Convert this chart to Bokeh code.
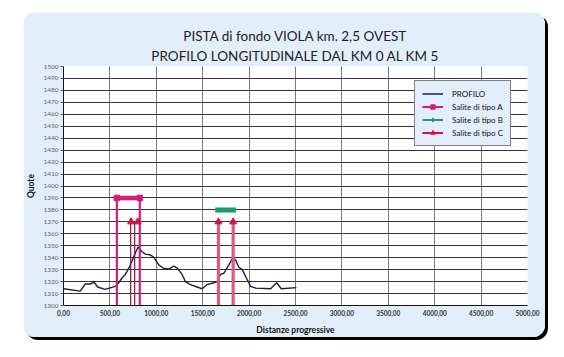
from bokeh.plotting import figure
from bokeh.models import Range1d, FixedTicker, Title, Legend, LegendItem
from bokeh.core.properties import value
from bokeh.embed import file_html
from bokeh.resources import INLINE

# ---- data ----
dist = [0, 180, 234, 288, 331, 367, 450, 558, 594, 630, 666, 702, 738, 774, 803,
        846, 882, 929, 972, 1026, 1080, 1134, 1188, 1224, 1278, 1314, 1368, 1440,
        1494, 1548, 1620, 1656, 1692, 1728, 1782, 1825, 1854, 1890, 1926, 1980,
        2016, 2070, 2232, 2297, 2347, 2510]
quota = [1314, 1312, 1318, 1318, 1319.5, 1315.5, 1313.5, 1316, 1319, 1323, 1326,
         1331, 1337, 1344, 1349, 1345, 1343, 1342.5, 1340.5, 1334, 1331, 1330.5,
         1333, 1331.5, 1326, 1320, 1317.5, 1315.5, 1314, 1317.5, 1319, 1320, 1326,
         1327, 1334, 1340, 1338, 1332, 1330, 1321.5, 1316, 1314.5, 1314, 1319,
         1314, 1315]

salite_A_start = [575]
salite_A_end = [822]
salite_A_quota = [1390]

salite_B_start = [1634]
salite_B_end = [1860]
salite_B_quota = [1380]

salite_C_lines_thin = [724, 767]
salite_C_lines_thick = [1670, 1828]
salite_C_arrows = [728, 800, 1670, 1828]
salite_C_quota = 1370

x_ticks = [0, 500, 1000, 1500, 2000, 2500, 3000, 3500, 4000, 4500, 5000]
x_tick_labels = ["0,00", "500,00", "1000,00", "1500,00", "2000,00", "2500,00",
                 "3000,00", "3500,00", "4000,00", "4500,00", "5000,00"]
y_ticks = list(range(1300, 1501, 10))
base_quota = 1300

title1 = "PISTA di fondo VIOLA km. 2,5 OVEST"
title2 = "PROFILO LONGITUDINALE DAL KM 0 AL KM 5"
legend_labels = ["PROFILO", "Salite di tipo A", "Salite di tipo B", "Salite di tipo C"]

PANEL = "#e2eef9"
PINK = "#d81b7a"
GREEN = "#17a063"
TEAL = "#21957a"
RED = "#d3123f"
NAVY = "#1c1c4e"

p = figure(width=522, height=325, output_backend="svg", toolbar_location=None,
           x_range=Range1d(0, 5000), y_range=Range1d(1300, 1500),
           min_border_left=39, min_border_right=18, min_border_top=54,
           min_border_bottom=31)
p.margin = (12, 19, 20, 23)
p.styles = {"border-radius": "12px", "box-shadow": "3px 3px 0px #000",
            "overflow": "hidden"}
p.border_fill_color = PANEL
p.background_fill_color = "white"
p.outline_line_color = None

# titles: p.title is outermost, added one is closest to the frame
p.title = Title(text=title1, align="center", text_font="Lato",
                text_font_size="13.5px", text_font_style="normal",
                text_color="#222222", standoff=0)
p.add_layout(Title(text=title2, align="center", text_font="Lato",
                   text_font_size="13.5px", text_font_style="normal",
                   text_color="#222222", standoff=5), "above")

# axes
p.xaxis.ticker = FixedTicker(ticks=x_ticks)
p.xaxis.major_label_overrides = {t: l for t, l in zip(x_ticks, x_tick_labels)}
p.yaxis.ticker = FixedTicker(ticks=y_ticks)
p.xaxis.axis_label = "Distanze progressive"
p.yaxis.axis_label = "Quote"
for ax in (p.xaxis, p.yaxis):
    ax.axis_label_text_font = "Lato"
    ax.axis_label_text_font_style = "bold"
    ax.axis_label_text_font_size = "8.5px"
    ax.axis_label_text_color = "#111111"
    ax.major_label_text_font = "Lato"
    ax.major_label_text_font_size = "6.5px"
    ax.axis_line_color = "#111111"
    ax.major_tick_in = 0
    ax.minor_tick_line_color = None
p.xaxis.major_label_text_color = "#333333"
p.xaxis.major_label_text_font_style = "bold"
p.yaxis.major_label_text_color = "#666666"
p.xaxis.major_tick_out = 0
p.xaxis.major_label_standoff = 4
p.xaxis.axis_label_standoff = 6
p.yaxis.major_tick_out = 3
p.yaxis.major_tick_line_color = "#555555"
p.yaxis.major_label_standoff = 2
p.yaxis.axis_label_standoff = 4

p.xgrid.grid_line_color = "#7a7a7a"
p.ygrid.grid_line_color = "#333333"
p.xgrid.grid_line_width = 1
p.ygrid.grid_line_width = 1

# profile
prof = p.line(dist, quota, line_color=NAVY, line_width=1.4)

# Salite tipo A
p.segment(x0=salite_A_start + salite_A_end, y0=[base_quota] * 2,
          x1=salite_A_start + salite_A_end, y1=salite_A_quota * 2,
          line_color=PINK, line_width=2.2)
p.segment(x0=salite_A_start, y0=salite_A_quota, x1=salite_A_end, y1=salite_A_quota,
          line_color=PINK, line_width=4.5)
p.scatter(salite_A_start + salite_A_end, salite_A_quota * 2, marker="square",
          size=5.5, color=PINK)

# Salite tipo B
p.segment(x0=salite_B_start, y0=salite_B_quota, x1=salite_B_end, y1=salite_B_quota,
          line_color=GREEN, line_width=5)

# Salite tipo C
p.segment(x0=salite_C_lines_thin, y0=[base_quota] * 2, x1=salite_C_lines_thin,
          y1=[salite_C_quota] * 2, line_color="#8c1034", line_width=1.2)
p.segment(x0=salite_C_lines_thick, y0=[base_quota] * 2, x1=salite_C_lines_thick,
          y1=[salite_C_quota] * 2, line_color="#e0587a", line_width=3.2)
p.scatter(salite_C_arrows, [salite_C_quota] * 4, marker="triangle", size=7,
          color=RED)

# legend-only renderers (placed outside the visible ranges)
off = [-9999]
lgA_l = p.line(off, off, line_color=PINK, line_width=2)
lgA_m = p.scatter(off, off, marker="square", size=5, color=PINK)
lgB_l = p.line(off, off, line_color=TEAL, line_width=2)
lgB_m = p.scatter(off, off, marker="diamond", size=7, color=TEAL)
lgC_l = p.line(off, off, line_color=RED, line_width=2)
lgC_m = p.scatter(off, off, marker="triangle", size=6, color=RED)

legend = Legend(items=[
    LegendItem(label=value(legend_labels[0]), renderers=[prof]),
    LegendItem(label=value(legend_labels[1]), renderers=[lgA_l, lgA_m]),
    LegendItem(label=value(legend_labels[2]), renderers=[lgB_l, lgB_m]),
    LegendItem(label=value(legend_labels[3]), renderers=[lgC_l, lgC_m]),
], location=(351, 159))
legend.background_fill_color = PANEL
legend.background_fill_alpha = 1
legend.border_line_color = "#111111"
legend.border_line_width = 1
legend.label_text_font = "Lato"
legend.label_text_font_size = "8px"
legend.label_text_color = "#111111"
legend.glyph_width = 21
legend.glyph_height = 11
legend.label_height = 11
legend.spacing = 2
legend.padding = 7
legend.margin = 0
legend.label_standoff = 9
p.add_layout(legend, "center")

out = file_html(p, INLINE)
open("out.html", "w").write(out)
